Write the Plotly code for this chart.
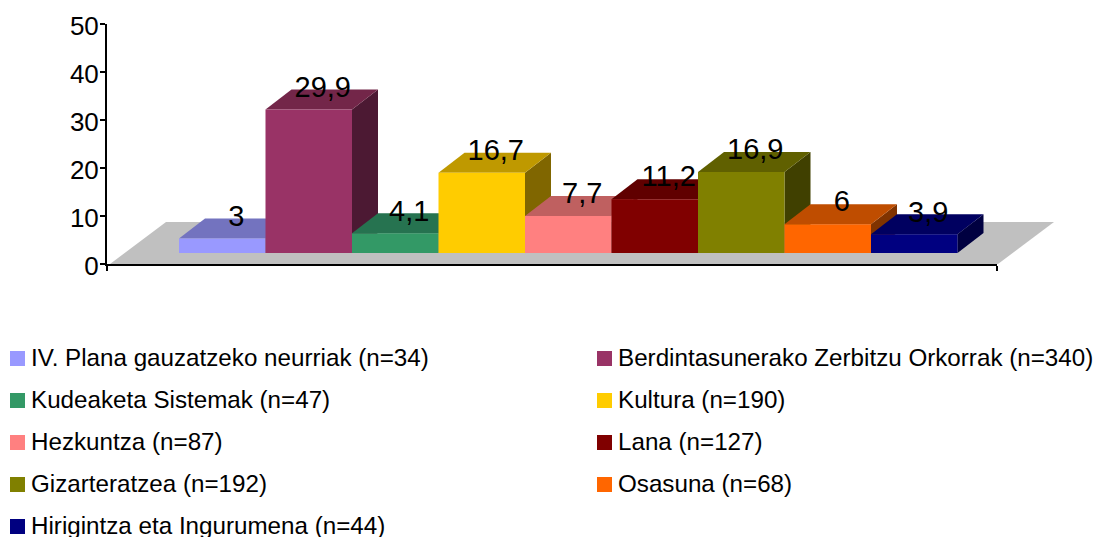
import plotly.graph_objects as go

categories = ["IV. Plana gauzatzeko neurriak (n=34)", "Berdintasunerako Zerbitzu Orkorrak (n=340)",
              "Kudeaketa Sistemak (n=47)", "Kultura (n=190)", "Hezkuntza (n=87)", "Lana (n=127)",
              "Gizarteratzea (n=192)", "Osasuna (n=68)", "Hirigintza eta Ingurumena (n=44)"]
values = [3, 29.9, 4.1, 16.7, 7.7, 11.2, 16.9, 6, 3.9]
labels = ["3", "29,9", "4,1", "16,7", "7,7", "11,2", "16,9", "6", "3,9"]
front_colors = ["#9999FF", "#993366", "#339966", "#FFCC00", "#FF8080", "#800000", "#808000", "#FF6600", "#000080"]
top_colors = ["#7373BF", "#732649", "#267350", "#BF9900", "#BF6060", "#600000", "#606000", "#BF4D00", "#000060"]
side_colors = ["#4C4C80", "#4C1933", "#194C33", "#806600", "#804040", "#400000", "#404000", "#803300", "#000040"]
y_ticks = [0, 10, 20, 30, 40, 50]

W, H = 1094, 537
L, R, T, B = 107, 997, 24, 264
UNIT = 86.5           # pixels per category
XMAX = (R - L) / UNIT
START = (179 - L) / UNIT
BASE = 11 / 4.8       # lift of the bars above the axis, in value units
DX, DY = 26 / UNIT, 20 / 4.8


def px(x):
    return (x - L) / (R - L)


def py(y):
    return (B - y) / (B - T)


fig = go.Figure()


def poly(xs, ys, color):
    fig.add_trace(go.Scatter(x=xs + xs[:1], y=ys + ys[:1], mode="lines", fill="toself",
                             fillcolor=color, line=dict(width=0, color=color),
                             hoverinfo="skip", showlegend=False))


for i, v in enumerate(values):
    x0, x1 = START + i, START + i + 1
    y0, y1 = BASE, BASE + v
    poly([x1, x1 + DX, x1 + DX, x1], [y0, y0 + DY, y1 + DY, y1], side_colors[i])
    poly([x0, x1, x1 + DX, x0 + DX], [y1, y1, y1 + DY, y1 + DY], top_colors[i])
    poly([x0, x1, x1, x0], [y0, y0, y1, y1], front_colors[i])

fig.add_trace(go.Scatter(
    x=[START + i + 0.5 + DX / 2 + 1 / UNIT for i in range(len(values))],
    y=[BASE + v + DY for v in values],
    mode="text", text=labels, textposition="middle center",
    textfont=dict(family="Liberation Sans", size=29, color="#000000"),
    hoverinfo="skip", showlegend=False, cliponaxis=False))

floor_path = "M {} {} L {} {} L {} {} L {} {} Z".format(
    px(110), py(264), px(998), py(264), px(1054), py(222), px(166), py(222))
shapes = [dict(type="path", path=floor_path, xref="paper", yref="paper",
               fillcolor="#C0C0C0", line_width=0, layer="below")]
annotations = []
row_y = [358.5, 400.5, 442.5, 484.5, 526.5]
col_x = [10, 597]
for i, (name, color) in enumerate(zip(categories, front_colors)):
    col, row = i % 2, i // 2
    sx, sy = col_x[col], row_y[row]
    shapes.append(dict(type="rect", xref="paper", yref="paper", line_width=0, fillcolor=color,
                       x0=px(sx), x1=px(sx + 15), y0=py(sy + 7.5), y1=py(sy - 7.5)))
    annotations.append(dict(text=name, xref="paper", yref="paper", showarrow=False,
                            x=px(sx + 18.5), y=py(sy - 1.5), xanchor="left", yanchor="middle",
                            font=dict(family="Liberation Sans", size=24.2, color="#000000")))

fig.update_layout(
    width=W, height=H, autosize=False,
    margin=dict(l=L, r=W - R, t=T, b=H - B),
    paper_bgcolor="#FFFFFF", plot_bgcolor="rgba(0,0,0,0)",
    showlegend=False, shapes=shapes, annotations=annotations,
    xaxis=dict(range=[0, XMAX], showgrid=False, zeroline=False, showline=True, linecolor="#000000",
               linewidth=2, ticks="outside", ticklen=5, tickwidth=2, tickcolor="#000000",
               tickvals=[0, XMAX], showticklabels=False),
    yaxis=dict(range=[0, 50], showgrid=False, zeroline=False, showline=True, linecolor="#000000",
               linewidth=2, ticks="outside", ticklen=5, tickwidth=2, tickcolor="#000000",
               tickvals=y_ticks, ticklabelstandoff=-4, ticklabelshift=2,
               tickfont=dict(family="Liberation Sans", size=26, color="#000000")),
)
fig.write_html("out.html", config={"displayModeBar": False},
               post_script="document.body.style.margin='0';document.body.style.overflow='hidden';")
